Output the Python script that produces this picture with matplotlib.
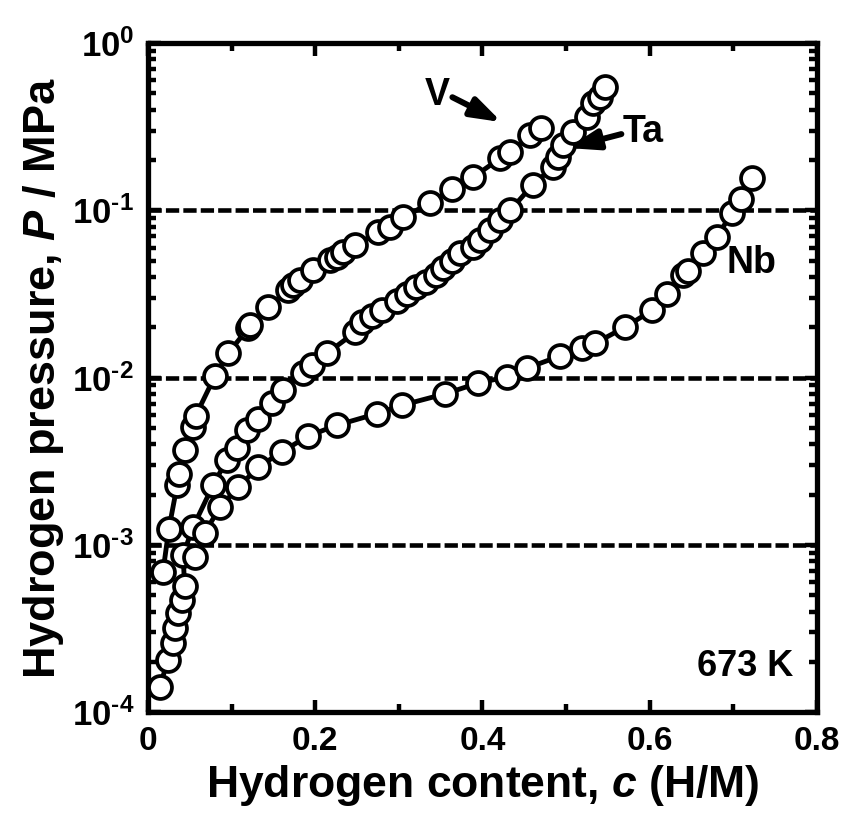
import numpy as np
import matplotlib
matplotlib.use('Agg')
import matplotlib.pyplot as plt
from matplotlib.ticker import FixedLocator, LogLocator, NullFormatter, MultipleLocator

plt.rcParams['font.family'] = ['Liberation Sans', 'DejaVu Sans']
plt.rcParams['font.weight'] = 'bold'
plt.rcParams['mathtext.fontset'] = 'custom'
plt.rcParams['mathtext.rm'] = 'Liberation Sans:bold'
plt.rcParams['mathtext.bf'] = 'Liberation Sans:bold'
plt.rcParams['mathtext.it'] = 'Liberation Sans:bold:italic'

# hydrogen content c (H/M) and pressure P (MPa) at 673 K
v_c = [0.018, 0.025, 0.035, 0.037, 0.044, 0.054, 0.057, 0.080, 0.096, 0.120, 0.122,
       0.144, 0.167, 0.173, 0.182, 0.197, 0.218, 0.226, 0.233, 0.248, 0.275, 0.289,
       0.305, 0.337, 0.364, 0.389, 0.421, 0.433, 0.457, 0.470]
v_p = [6.9e-4, 1.24e-3, 2.28e-3, 2.65e-3, 3.7e-3, 5.1e-3, 5.9e-3, 1.02e-2, 1.40e-2, 1.98e-2, 2.06e-2,
       2.64e-2, 3.34e-2, 3.57e-2, 3.83e-2, 4.39e-2, 5.04e-2, 5.25e-2, 5.62e-2, 6.2e-2, 7.41e-2, 7.94e-2,
       9.12e-2, 0.110, 0.134, 0.158, 0.205, 0.223, 0.282, 0.310]

ta_c = [0.014, 0.024, 0.030, 0.032, 0.036, 0.041, 0.044, 0.042, 0.054, 0.078, 0.094,
        0.106, 0.118, 0.132, 0.148, 0.161, 0.185, 0.196, 0.214, 0.248, 0.256, 0.268,
        0.280, 0.298, 0.310, 0.320, 0.332, 0.344, 0.353, 0.364, 0.373, 0.389, 0.397,
        0.409, 0.421, 0.433, 0.460, 0.484, 0.490, 0.496, 0.508, 0.525, 0.532, 0.541, 0.547]
ta_p = [1.41e-4, 2.05e-4, 2.6e-4, 3.2e-4, 3.9e-4, 4.7e-4, 5.7e-4, 8.7e-4, 1.28e-3, 2.28e-3, 3.2e-3,
        3.8e-3, 4.85e-3, 5.7e-3, 7.1e-3, 8.4e-3, 1.06e-2, 1.19e-2, 1.40e-2, 1.87e-2, 2.15e-2, 2.33e-2,
        2.53e-2, 2.87e-2, 3.16e-2, 3.48e-2, 3.72e-2, 4.1e-2, 4.5e-2, 4.97e-2, 5.55e-2, 6.03e-2, 6.64e-2,
        7.62e-2, 8.74e-2, 0.100, 0.142, 0.181, 0.208, 0.245, 0.294, 0.361, 0.438, 0.476, 0.546]

nb_c = [0.056, 0.068, 0.086, 0.108, 0.132, 0.160, 0.191, 0.226, 0.274, 0.304, 0.355,
        0.395, 0.429, 0.453, 0.493, 0.519, 0.535, 0.570, 0.603, 0.621, 0.640, 0.646,
        0.664, 0.680, 0.698, 0.709, 0.722]
nb_p = [8.45e-4, 1.18e-3, 1.68e-3, 2.21e-3, 2.92e-3, 3.6e-3, 4.47e-3, 5.2e-3, 6.1e-3, 6.85e-3, 8.0e-3,
        9.3e-3, 1.01e-2, 1.14e-2, 1.35e-2, 1.5e-2, 1.61e-2, 2.0e-2, 2.53e-2, 3.16e-2, 4.1e-2, 4.33e-2,
        5.55e-2, 6.92e-2, 9.64e-2, 0.117, 0.156]

grid_levels = [1e-3, 1e-2, 1e-1]
x_ticks = [0, 0.2, 0.4, 0.6, 0.8]
x_tick_labels = ['0', '0.2', '0.4', '0.6', '0.8']
y_ticks = [1e-4, 1e-3, 1e-2, 1e-1, 1e0]
y_tick_labels = [r'$10^{\text{-}4}$', r'$10^{\text{-}3}$', r'$10^{\text{-}2}$',
                 r'$10^{\text{-}1}$', r'$10^{0}$']

fig = plt.figure(figsize=(8.45, 8.14), dpi=100)
ax = fig.add_axes([0.175, 0.125, 0.792, 0.822])

for lev in grid_levels:
    ax.axhline(lev, color='black', lw=3.3, dashes=(2.9, 0.9), zorder=1)

for cs, ps in [(v_c, v_p), (ta_c, ta_p), (nb_c, nb_p)]:
    ax.plot(cs, ps, '-o', color='black', lw=3.5, ms=16.5, mfc='white',
            mec='black', mew=2.7, zorder=3)

ax.set_yscale('log')
ax.set_xlim(0, 0.8)
ax.set_ylim(1e-4, 1)

ax.xaxis.set_major_locator(FixedLocator(x_ticks))
ax.set_xticklabels(x_tick_labels)
ax.xaxis.set_minor_locator(MultipleLocator(0.1))
ax.yaxis.set_major_locator(FixedLocator(y_ticks))
ax.set_yticklabels(y_tick_labels)
ax.yaxis.set_minor_locator(LogLocator(base=10, subs=np.arange(2, 10)))
ax.yaxis.set_minor_formatter(NullFormatter())

ax.tick_params(which='both', direction='in', top=True, right=True)
ax.tick_params(which='major', length=9, width=3.2, labelsize=24, pad=10)
ax.tick_params(axis='y', which='major', labelsize=25)
ax.tick_params(which='minor', length=6, width=3.2)
for sp in ax.spines.values():
    sp.set_linewidth(3.8)

ax.set_xlabel('Hydrogen content, $c$ (H/M)', fontsize=32, fontweight='bold', labelpad=4)
ax.set_ylabel('Hydrogen pressure, $P$ / MPa', fontsize=32.5, fontweight='bold', labelpad=4)

arrow = dict(arrowstyle='-|>,head_length=0.6,head_width=0.2', lw=4.3,
             color='black', mutation_scale=30, shrinkA=0, shrinkB=0)
ax.text(0.346, 0.489, 'V', fontsize=27, fontweight='bold', ha='center', va='center')
ax.annotate('', xy=(0.423, 0.337), xytext=(0.364, 0.475), arrowprops=arrow, zorder=6)
ax.text(0.592, 0.294, 'Ta', fontsize=27, fontweight='bold', ha='center', va='center')
ax.annotate('', xy=(0.502, 0.236), xytext=(0.566, 0.286), arrowprops=arrow, zorder=6)
ax.text(0.722, 0.0484, 'Nb', fontsize=27, fontweight='bold', ha='center', va='center')
ax.text(0.771, 1.88e-4, '673 K', fontsize=26, fontweight='bold', ha='right', va='center')

fig.savefig('out.png', dpi=100)
